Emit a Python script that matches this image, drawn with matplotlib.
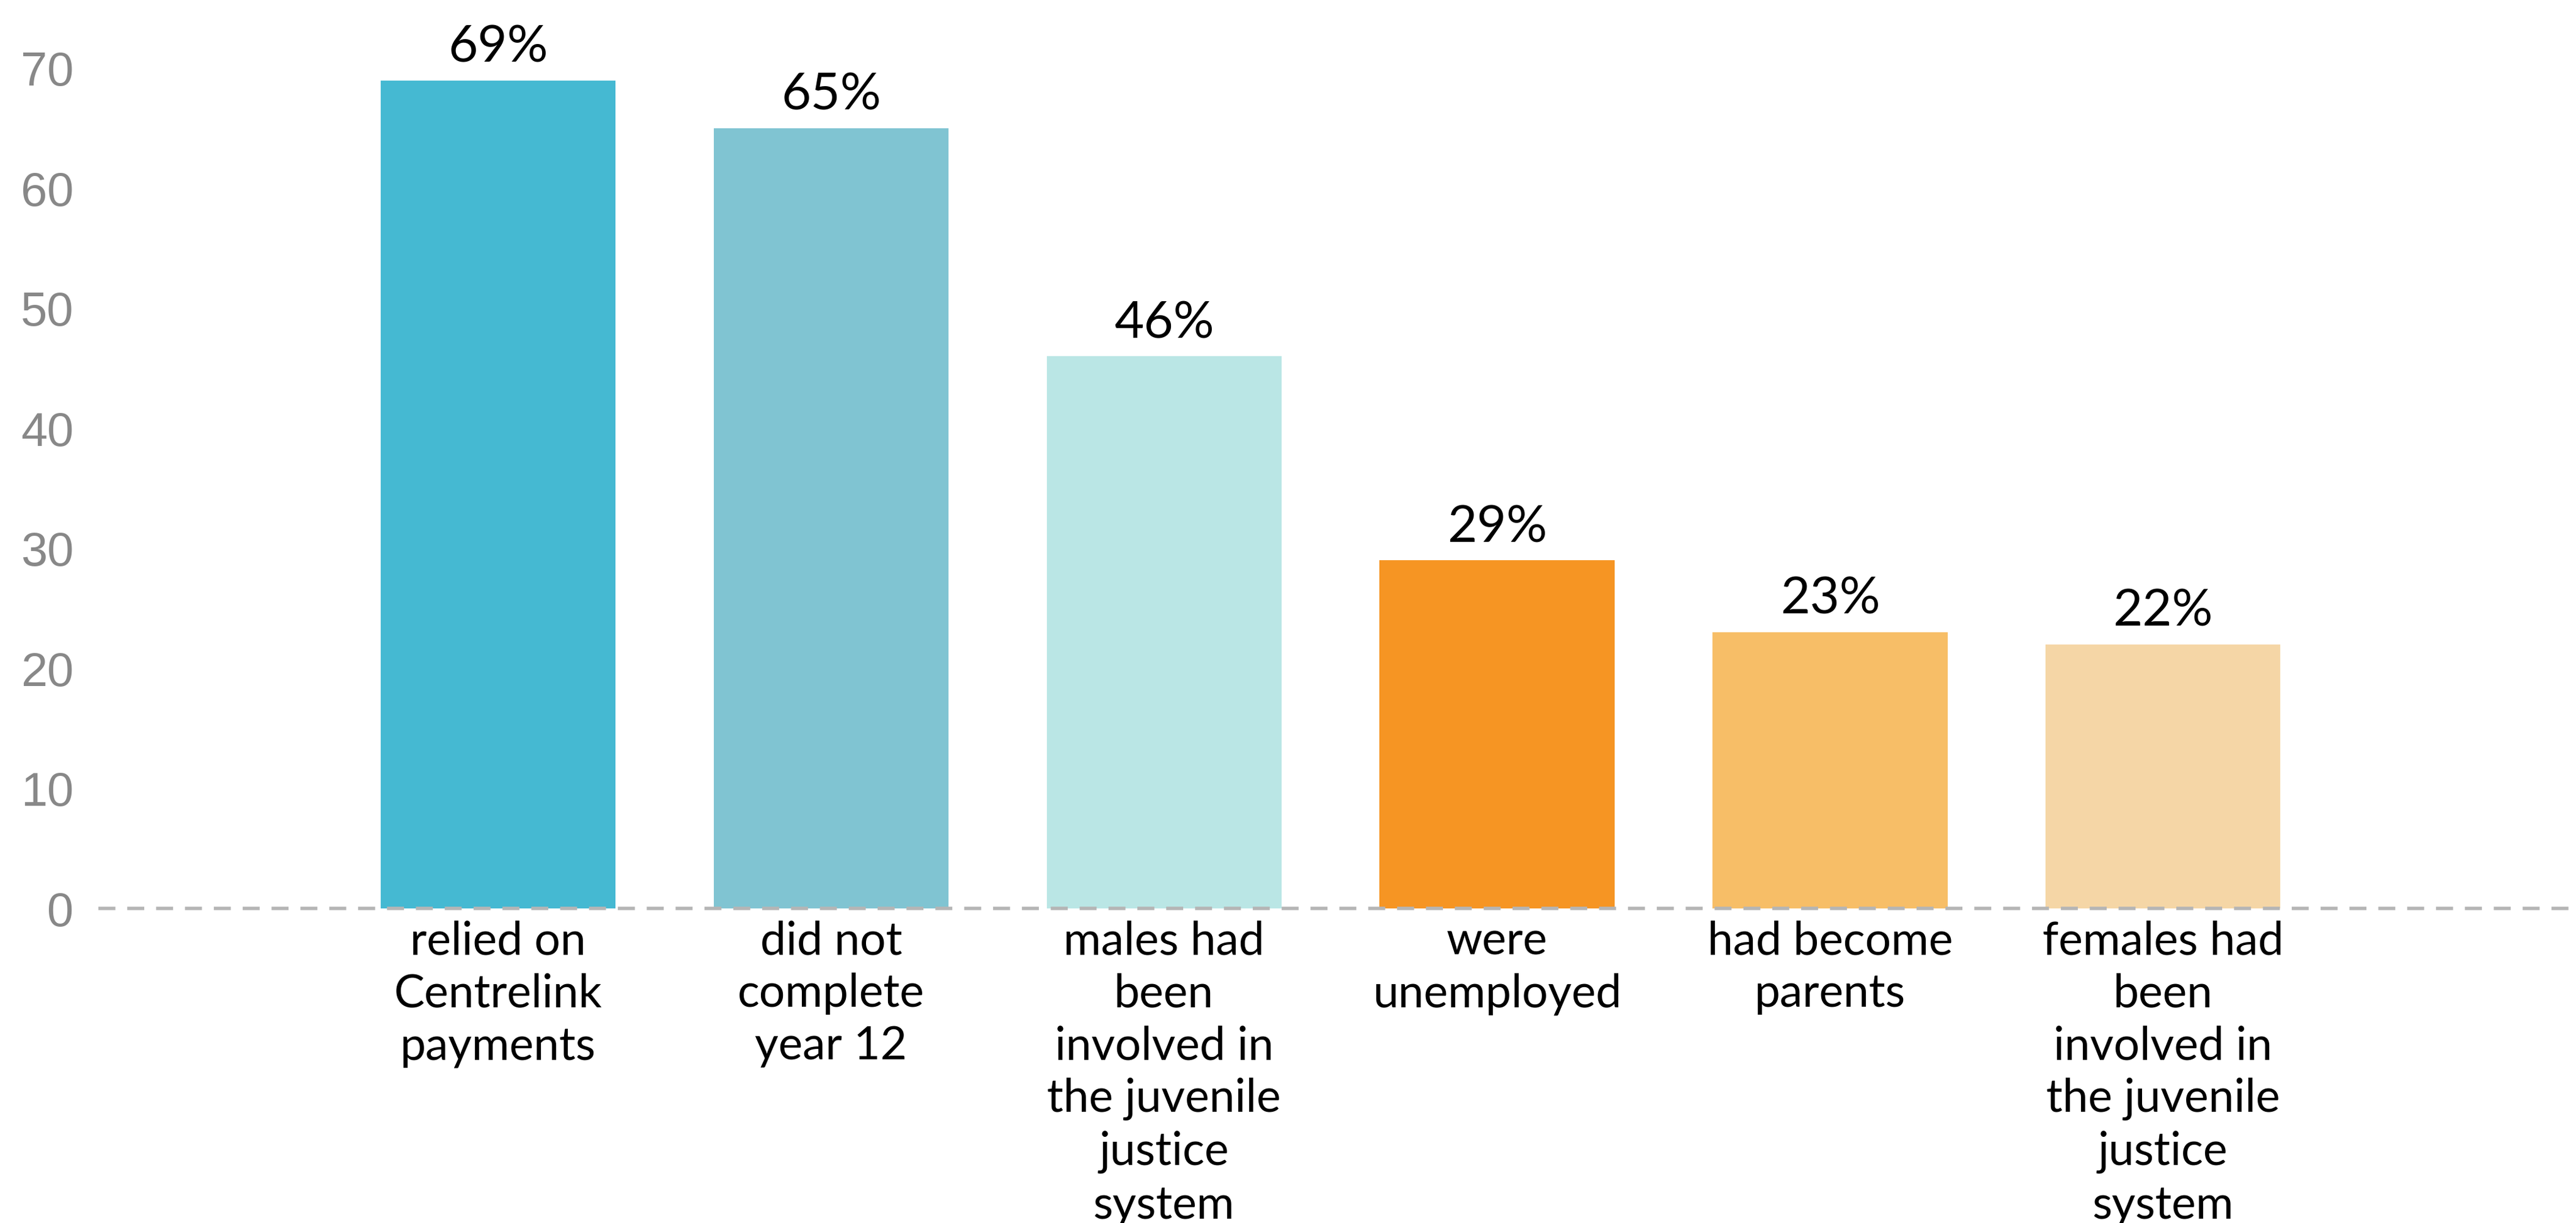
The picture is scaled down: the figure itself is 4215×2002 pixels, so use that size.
import matplotlib.pyplot as plt

categories = ["relied on\nCentrelink\npayments",
              "did not\ncomplete\nyear 12",
              "males had\nbeen\ninvolved in\nthe juvenile\njustice\nsystem",
              "were\nunemployed",
              "had become\nparents",
              "females had\nbeen\ninvolved in\nthe juvenile\njustice\nsystem"]
values = [69, 65, 46, 29, 23, 22]
value_labels = ["69%", "65%", "46%", "29%", "23%", "22%"]
colors = ["#45B9D2", "#80C4D2", "#BAE6E5", "#F69523", "#F7BE67", "#F5D6A6"]
yticks = [0, 10, 20, 30, 40, 50, 60, 70]

fig = plt.figure(figsize=(42.15, 20.02), dpi=100)
ax = fig.add_axes([0.0382, 0.2572, 0.9618, 0.7428])

x = list(range(len(values)))
ax.bar(x, values, width=0.705, color=colors, zorder=2)

for xi, v, lab in zip(x, values, value_labels):
    ax.annotate(lab, (xi, v), xytext=(0, 11), textcoords='offset points',
                ha='center', va='bottom', fontsize=60, family='Lato', color='black')

ax.axhline(0, color='#B5B5B5', lw=4, linestyle=(0, (5, 3.5)), zorder=3, clip_on=False)

ax.set_xlim(-1.2, 6.24)
ax.set_ylim(0, 75.7)
ax.set_yticks(yticks)
ax.set_yticklabels([str(t) for t in yticks], fontsize=56, color='#888888', family='Liberation Sans')
ax.set_xticks(x)
ax.set_xticklabels(categories, fontsize=54, family='Lato', linespacing=1.3)
ax.tick_params(axis='y', length=0, pad=29)
ax.tick_params(axis='x', length=0, pad=14)
for s in ax.spines.values():
    s.set_visible(False)

fig.savefig('out.png', dpi=100)
